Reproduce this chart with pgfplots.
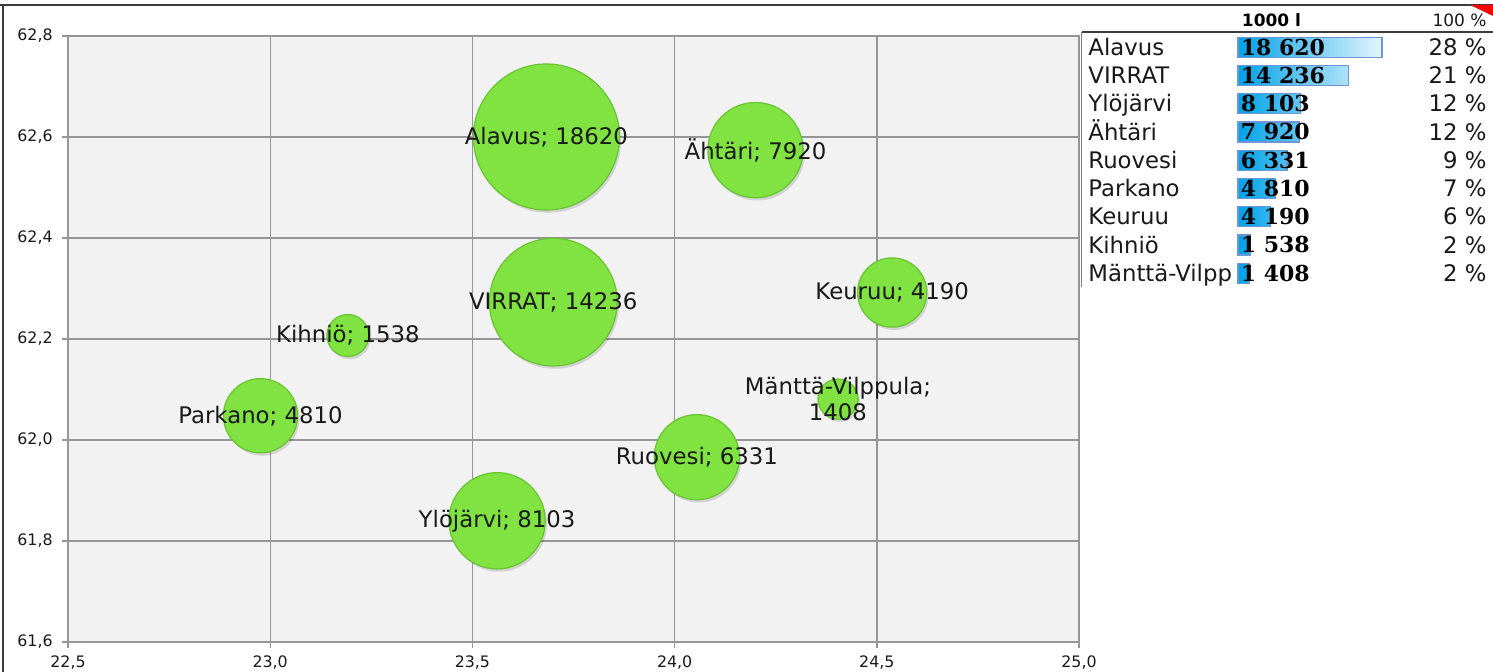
\documentclass[border=0pt]{standalone}
\usepackage{fontspec}
\setmainfont{DejaVu Sans}
\newfontfamily\numfont{DejaVu Serif}
\usepackage{pgfplots}
\pgfplotsset{compat=1.18}
\usepackage{pgfplotstable}

\definecolor{plotbg}{RGB}{242,242,242}
\definecolor{gridc}{RGB}{150,150,150}
\definecolor{bgreen}{RGB}{128,227,66}
\definecolor{bgreenD}{RGB}{104,196,48}
\definecolor{barblue}{RGB}{0,162,232}
\definecolor{barlight}{RGB}{228,245,253}
\definecolor{barframe}{RGB}{110,150,210}
\definecolor{framec}{RGB}{60,60,60}
\definecolor{txt}{RGB}{25,25,25}

\pgfplotstableread{
x y v
23.683 62.600 18620
24.200 62.574 7920
23.700 62.273 14236
24.538 62.292 4190
24.404 62.081 1408
23.192 62.207 1538
22.976 62.048 4810
24.055 61.966 6331
23.561 61.840 8103
}\bubbles

\pgfplotstableread{
row v
1 18620
2 14236
3 8103
4 7920
5 6331
6 4810
7 4190
8 1538
9 1408
}\bars

\newcommand\lf{\fontsize{11.4}{13}\selectfont}

\begin{document}
\begin{tikzpicture}
\useasboundingbox (0,0) rectangle (746.5pt,336pt);
\begin{axis}[
  at={(34pt,15pt)}, anchor=south west, scale only axis,
  width=505.5pt, height=303pt,
  xmin=22.5, xmax=25, ymin=61.6, ymax=62.8,
  xtick={22.5,23.0,23.5,24.0,24.5,25.0},
  ytick={61.6,61.8,62.0,62.2,62.4,62.6,62.8},
  grid=major, grid style={gridc, line width=0.7pt},
  axis line style={gridc, line width=0.7pt},
  tick style={gridc, line width=0.7pt},
  tick align=outside, major tick length=3pt,
  xtick pos=bottom, ytick pos=left,
  axis background/.style={fill=plotbg},
  tick label style={font=\fontsize{7.9}{9}\selectfont, text=txt},
  /pgf/number format/fixed, /pgf/number format/fixed zerofill,
  /pgf/number format/precision=1, /pgf/number format/use comma,
  /pgf/number format/assume math mode=true,
  yticklabel style={anchor=east, inner sep=0pt, xshift=-4.5pt},
  xticklabel style={anchor=north, inner sep=0pt, yshift=-3.5pt},
  clip=false,
]
% shadows
\addplot[scatter, only marks, mark=*,
  scatter/use mapped color={draw opacity=0, fill=black, fill opacity=0.13},
  mark options={xshift=0.9pt, yshift=-1.4pt},
  visualization depends on={0.2675*sqrt(\thisrow{v}) \as \rad},
  scatter/@pre marker code/.append style={/tikz/mark size=\rad}]
  table[x=x, y=y] {\bubbles};
% bubbles
\addplot[scatter, only marks, mark=*,
  scatter/use mapped color={draw=bgreenD, fill=bgreen},
  mark options={line width=0.6pt},
  visualization depends on={0.2675*sqrt(\thisrow{v}) \as \rad},
  scatter/@pre marker code/.append style={/tikz/mark size=\rad}]
  table[x=x, y=y] {\bubbles};
\coordinate (lA) at (axis cs:23.683,62.600);
\coordinate (lB) at (axis cs:24.200,62.574);
\coordinate (lC) at (axis cs:23.700,62.273);
\coordinate (lD) at (axis cs:24.538,62.292);
\coordinate (lE) at (axis cs:24.404,62.081);
\coordinate (lF) at (axis cs:23.192,62.207);
\coordinate (lG) at (axis cs:22.976,62.048);
\coordinate (lH) at (axis cs:24.055,61.966);
\coordinate (lI) at (axis cs:23.561,61.840);
\end{axis}
\tikzset{bl/.style={font=\lf, text=txt, inner sep=0pt}}
\node[bl] at (lA) {Alavus; 18620};
\node[bl] at (lB) {Ähtäri; 7920};
\node[bl] at (lC) {VIRRAT; 14236};
\node[bl] at (lD) {Keuruu; 4190};
\node[bl, align=center] at (lE) {Mänttä-Vilppula;\\1408};
\node[bl] at (lF) {Kihniö; 1538};
\node[bl] at (lG) {Parkano; 4810};
\node[bl] at (lH) {Ruovesi; 6331};
\node[bl] at (lI) {Ylöjärvi; 8103};

\begin{axis}[
  at={(619pt,192.35pt)}, anchor=south west, scale only axis,
  width=72pt, height=127.125pt,
  xmin=0, xmax=18620, ymin=0.5, ymax=9.5, y dir=reverse,
  hide axis, clip=false,
]
\addplot[xbar, bar width=10pt, draw=barframe, line width=0.6pt,
  left color=barblue, right color=barlight]
  table[x=v, y=row] {\bars};
\tikzset{
  nm/.style={anchor=base west, font=\lf, text=txt, inner sep=0pt, xshift=-75pt, yshift=-4.1pt},
  nu/.style={anchor=base west, font=\numfont\bfseries\fontsize{11}{13}\selectfont, text=black, inner sep=0pt, xshift=1.2pt, yshift=-4pt},
  pc/.style={anchor=base east, font=\lf, text=txt, inner sep=0pt, xshift=124.5pt, yshift=-4.1pt}
}
\node[nm] at (axis cs:0,1) {Alavus};
\node[nm] at (axis cs:0,2) {VIRRAT};
\node[nm] at (axis cs:0,3) {Ylöjärvi};
\node[nm] at (axis cs:0,4) {Ähtäri};
\node[nm] at (axis cs:0,5) {Ruovesi};
\node[nm] at (axis cs:0,6) {Parkano};
\node[nm] at (axis cs:0,7) {Keuruu};
\node[nm] at (axis cs:0,8) {Kihniö};
\node[nm] at (axis cs:0,9) {Mänttä-Vilpp};
\node[nu] at (axis cs:0,1) {18 620};
\node[nu] at (axis cs:0,2) {14 236};
\node[nu] at (axis cs:0,3) {8 103};
\node[nu] at (axis cs:0,4) {7 920};
\node[nu] at (axis cs:0,5) {6 331};
\node[nu] at (axis cs:0,6) {4 810};
\node[nu] at (axis cs:0,7) {4 190};
\node[nu] at (axis cs:0,8) {1 538};
\node[nu] at (axis cs:0,9) {1 408};
\node[pc] at (axis cs:0,1) {28 \%};
\node[pc] at (axis cs:0,2) {21 \%};
\node[pc] at (axis cs:0,3) {12 \%};
\node[pc] at (axis cs:0,4) {12 \%};
\node[pc] at (axis cs:0,5) {9 \%};
\node[pc] at (axis cs:0,6) {7 \%};
\node[pc] at (axis cs:0,7) {6 \%};
\node[pc] at (axis cs:0,8) {2 \%};
\node[pc] at (axis cs:0,9) {2 \%};
\end{axis}

% frame and table header
\draw[framec, line width=1pt] (0,333.5pt) -- (746.5pt,333.5pt);
\draw[framec, line width=1pt] (1.25pt,333.5pt) -- (1.25pt,0);
\draw[framec, line width=1pt] (541pt,319.75pt) -- (746.5pt,319.75pt);
\draw[gray, line width=0.5pt] (540.75pt,319.75pt) -- (540.75pt,192.5pt);
\fill[red] (735pt,333.5pt) -- (746.5pt,333.5pt) -- (746.5pt,328pt) -- cycle;
\node[anchor=base, inner sep=0pt, font=\bfseries\fontsize{8.5}{10}\selectfont, text=black] at (635.75pt,322.5pt) {1000 l};
\node[anchor=base east, inner sep=0pt, font=\fontsize{8.5}{10}\selectfont, text=txt] at (743.5pt,322.5pt) {100 \%};
\end{tikzpicture}
\end{document}
